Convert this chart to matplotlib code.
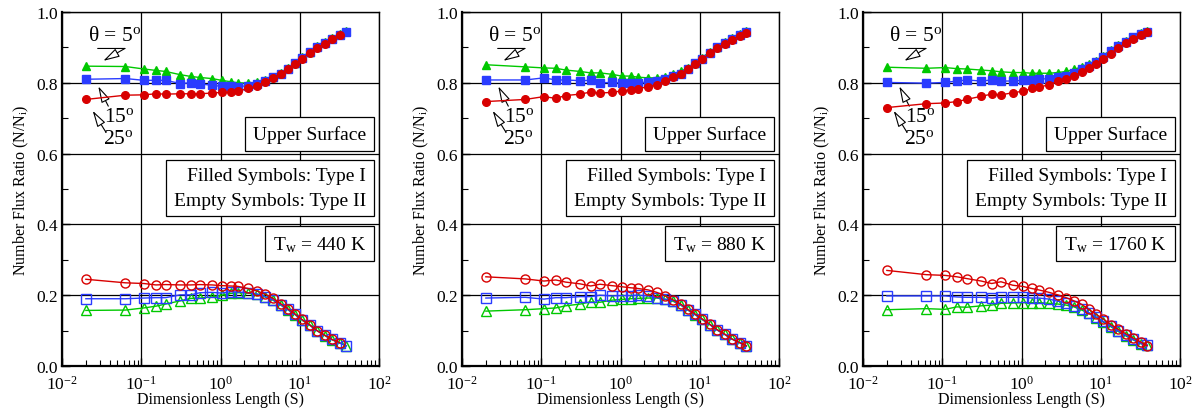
import numpy as np
import matplotlib
matplotlib.use("Agg")
import matplotlib.pyplot as plt
from matplotlib.ticker import LogLocator, MultipleLocator, NullFormatter

plt.rcParams['font.family'] = ['Liberation Serif', 'DejaVu Serif']
plt.rcParams['mathtext.fontset'] = 'custom'
plt.rcParams['mathtext.rm'] = 'Liberation Serif'
plt.rcParams['mathtext.it'] = 'Liberation Serif:italic'
plt.rcParams['mathtext.bf'] = 'Liberation Serif:bold'
plt.rcParams['axes.unicode_minus'] = False

# ---------------- data ----------------
S = [0.02, 0.063, 0.108, 0.153, 0.203, 0.31, 0.42, 0.55, 0.78, 1.03, 1.34, 1.65,
     2.23, 2.87, 3.66, 4.6, 5.76, 7.06, 8.73, 10.6, 13.4, 16.5, 20.7, 25.6, 31.9, 38.7]

temps = ["440", "880", "1760"]

# Upper surface, filled symbols (Type I)
up_tri_440 = [0.847, 0.846, 0.839, 0.835, 0.832, 0.823, 0.818, 0.815, 0.812, 0.807, 0.803, 0.800,
              0.799, 0.801, 0.807, 0.817, 0.828, 0.842, 0.857, 0.872, 0.888, 0.903, 0.915, 0.927, 0.937, 0.946]
up_sq_440 = [0.810, 0.812, 0.807, 0.807, 0.807, 0.798, 0.800, 0.797, 0.793, 0.790, 0.791, 0.789,
             0.792, 0.797, 0.805, 0.815, 0.826, 0.840, 0.855, 0.870, 0.886, 0.901, 0.913, 0.925, 0.935, 0.944]
up_circ_440 = [0.753, 0.765, 0.766, 0.769, 0.768, 0.769, 0.769, 0.769, 0.771, 0.773, 0.774, 0.776,
               0.784, 0.791, 0.802, 0.813, 0.825, 0.838, 0.853, 0.868, 0.884, 0.899, 0.911, 0.923, 0.934]

up_tri_880 = [0.851, 0.845, 0.842, 0.841, 0.836, 0.832, 0.828, 0.828, 0.824, 0.819, 0.819, 0.816,
              0.814, 0.814, 0.817, 0.824, 0.832, 0.843, 0.857, 0.871, 0.887, 0.902, 0.915, 0.927, 0.937, 0.946]
up_sq_880 = [0.808, 0.808, 0.814, 0.808, 0.808, 0.806, 0.807, 0.800, 0.801, 0.800, 0.800, 0.800,
             0.802, 0.805, 0.811, 0.818, 0.826, 0.840, 0.855, 0.868, 0.885, 0.900, 0.913, 0.925, 0.935, 0.944]
up_circ_880 = [0.747, 0.753, 0.761, 0.756, 0.764, 0.768, 0.774, 0.771, 0.773, 0.777, 0.780, 0.783,
               0.789, 0.795, 0.804, 0.815, 0.825, 0.838, 0.852, 0.866, 0.883, 0.898, 0.911, 0.922, 0.933, 0.942]

up_tri_1760 = [0.844, 0.841, 0.843, 0.840, 0.839, 0.836, 0.834, 0.831, 0.829, 0.829, 0.827, 0.827,
               0.827, 0.829, 0.832, 0.838, 0.845, 0.854, 0.862, 0.877, 0.892, 0.906, 0.918, 0.930, 0.940, 0.946]
up_sq_1760 = [0.801, 0.799, 0.801, 0.805, 0.808, 0.805, 0.808, 0.805, 0.805, 0.807, 0.808, 0.810,
              0.812, 0.816, 0.820, 0.827, 0.838, 0.848, 0.859, 0.874, 0.890, 0.904, 0.916, 0.929, 0.939, 0.944]
up_circ_1760 = [0.730, 0.741, 0.743, 0.747, 0.753, 0.762, 0.768, 0.766, 0.772, 0.776, 0.784, 0.787,
                0.795, 0.804, 0.810, 0.819, 0.831, 0.842, 0.854, 0.866, 0.882, 0.898, 0.912, 0.923, 0.935, 0.943]

# Lower surface, empty symbols (Type II)
lo_tri_440 = [0.157, 0.158, 0.164, 0.169, 0.175, 0.184, 0.191, 0.192, 0.195, 0.200, 0.205, 0.207,
              0.206, 0.202, 0.195, 0.186, 0.172, 0.159, 0.145, 0.130, 0.115, 0.100, 0.086, 0.074, 0.065, 0.057]
lo_sq_440 = [0.190, 0.190, 0.192, 0.193, 0.193, 0.201, 0.201, 0.207, 0.208, 0.206, 0.210, 0.209,
             0.207, 0.204, 0.196, 0.187, 0.173, 0.160, 0.146, 0.131, 0.116, 0.100, 0.087, 0.075, 0.065, 0.057]
lo_circ_440 = [0.245, 0.235, 0.233, 0.229, 0.230, 0.229, 0.229, 0.230, 0.229, 0.227, 0.226, 0.225,
               0.219, 0.212, 0.203, 0.191, 0.176, 0.162, 0.147, 0.132, 0.116, 0.100, 0.087, 0.075, 0.066]

lo_tri_880 = [0.155, 0.159, 0.162, 0.164, 0.170, 0.175, 0.181, 0.180, 0.186, 0.188, 0.190, 0.191,
              0.192, 0.192, 0.188, 0.183, 0.172, 0.158, 0.145, 0.132, 0.117, 0.102, 0.089, 0.076, 0.066, 0.056]
lo_sq_880 = [0.192, 0.194, 0.189, 0.193, 0.193, 0.196, 0.196, 0.200, 0.198, 0.199, 0.199, 0.200,
             0.198, 0.193, 0.189, 0.185, 0.173, 0.159, 0.146, 0.133, 0.117, 0.102, 0.089, 0.076, 0.066, 0.056]
lo_circ_880 = [0.252, 0.246, 0.240, 0.243, 0.237, 0.232, 0.226, 0.231, 0.227, 0.224, 0.221, 0.219,
               0.215, 0.208, 0.198, 0.187, 0.175, 0.160, 0.147, 0.134, 0.118, 0.103, 0.090, 0.076, 0.066, 0.057]

lo_tri_1760 = [0.159, 0.162, 0.160, 0.167, 0.166, 0.170, 0.172, 0.177, 0.178, 0.179, 0.179, 0.179,
               0.177, 0.175, 0.172, 0.167, 0.158, 0.149, 0.137, 0.125, 0.111, 0.098, 0.085, 0.074, 0.063, 0.059]
lo_sq_1760 = [0.198, 0.198, 0.198, 0.195, 0.194, 0.194, 0.192, 0.194, 0.194, 0.194, 0.192, 0.192,
              0.189, 0.183, 0.178, 0.170, 0.162, 0.151, 0.139, 0.127, 0.113, 0.100, 0.087, 0.075, 0.064, 0.059]
lo_circ_1760 = [0.270, 0.258, 0.256, 0.252, 0.247, 0.240, 0.233, 0.238, 0.228, 0.225, 0.219, 0.215,
                0.208, 0.201, 0.193, 0.184, 0.174, 0.160, 0.146, 0.134, 0.117, 0.104, 0.091, 0.079, 0.068, 0.057]

upper = [(up_tri_440, up_sq_440, up_circ_440),
         (up_tri_880, up_sq_880, up_circ_880),
         (up_tri_1760, up_sq_1760, up_circ_1760)]
lower = [(lo_tri_440, lo_sq_440, lo_circ_440),
         (lo_tri_880, lo_sq_880, lo_circ_880),
         (lo_tri_1760, lo_sq_1760, lo_circ_1760)]

GREEN = "#00c800"
BLUE = "#2a3cff"
RED = "#d80000"
colors = [GREEN, BLUE, RED]
markers = ['^', 's', 'o']

# ---------------- figure ----------------
fig = plt.figure(figsize=(11.98, 4.10), dpi=100)
W, H = 1198.0, 410.0
lefts = [62, 462, 863]
arrow = dict(arrowstyle='-|>,head_length=1.0,head_width=0.28',
             fc='white', ec='black', lw=0.8, shrinkA=0, shrinkB=0)
for i, lp in enumerate(lefts):
    ax = fig.add_axes([lp / W, (H - 367) / H, 317 / W, 354 / H])
    ax.set_xscale('log')
    ax.set_xlim(1e-2, 1e2)
    ax.set_ylim(0, 1.0)

    for vals, c, m, z in zip(upper[i], colors, markers, [3, 4, 5]):
        ax.plot(S[:len(vals)], vals, color=c, marker=m, ms=5.5, mfc=c, mec=c,
                lw=1.0, zorder=z)
    for vals, c, m, z in zip(lower[i], colors, markers, [3, 4, 5]):
        ax.plot(S[:len(vals)], vals, color=c, marker=m, ms=6.5, mfc='none', mec=c,
                mew=1.0, lw=1.0, zorder=z)

    ax.grid(True, which='major', color='black', lw=0.9, zorder=1)
    ax.set_axisbelow(True)
    ax.yaxis.set_major_locator(MultipleLocator(0.2))
    ax.yaxis.set_minor_locator(MultipleLocator(0.1))
    ax.xaxis.set_major_locator(LogLocator(base=10, numticks=10))
    ax.xaxis.set_minor_locator(LogLocator(base=10, subs=np.arange(2, 10), numticks=20))
    ax.xaxis.set_minor_formatter(NullFormatter())
    ax.yaxis.set_major_formatter(matplotlib.ticker.FormatStrFormatter('%.1f'))
    ax.tick_params(which='both', direction='in', top=False, right=False)
    ax.tick_params(which='major', length=6, width=1.0, labelsize=12.5)
    ax.tick_params(axis='y', which='major', pad=3)
    ax.tick_params(axis='x', which='major', pad=6)
    ax.tick_params(which='minor', length=4, width=0.8)
    for side in ['left', 'bottom']:
        ax.spines[side].set_linewidth(1.6)
    for side in ['top', 'right']:
        ax.spines[side].set_linewidth(1.0)

    ax.set_xlabel('Dimensionless Length (S)', fontsize=11.5, labelpad=-1)
    ax.set_ylabel('Number Flux Ratio (N/N$_\\mathrm{i}$)', fontsize=11.5, labelpad=4)

    # angle annotations
    ax.text(0.021, 0.935, 'θ = 5$^\\mathrm{o}$', fontsize=15.5, ha='left', va='center')
    ax.annotate('', xy=(0.0282, 0.897), xytext=(0.0622, 0.897),
                arrowprops=dict(arrowstyle='-', lw=0.8, color='black',
                                shrinkA=0, shrinkB=0))
    ax.annotate('', xy=(0.0332, 0.862), xytext=(0.0622, 0.897), arrowprops=arrow)
    ax.annotate('', xy=(0.0287, 0.790), xytext=(0.0384, 0.734), arrowprops=arrow)
    ax.text(0.0524, 0.706, '15$^\\mathrm{o}$', fontsize=15.5, ha='center', va='center')
    ax.annotate('', xy=(0.0244, 0.721), xytext=(0.0359, 0.660), arrowprops=arrow)
    ax.text(0.0513, 0.642, '25$^\\mathrm{o}$', fontsize=15.5, ha='center', va='center')

    box = dict(boxstyle='square,pad=0.4', fc='white', ec='black', lw=0.9)
    ax.text(0.959, 0.655, 'Upper Surface', transform=ax.transAxes, fontsize=14,
            ha='right', va='center', bbox=box, zorder=10)
    ax.text(0.959, 0.503, 'Filled Symbols: Type I\nEmpty Symbols: Type II',
            transform=ax.transAxes, fontsize=14, ha='right', va='center',
            multialignment='right', linespacing=1.55, bbox=box, zorder=10)
    ax.text(0.959, 0.345, 'T$_\\mathrm{w}$ = %s K' % temps[i], transform=ax.transAxes,
            fontsize=14, ha='right', va='center', bbox=box, zorder=10)

fig.savefig('out.png', dpi=100)
